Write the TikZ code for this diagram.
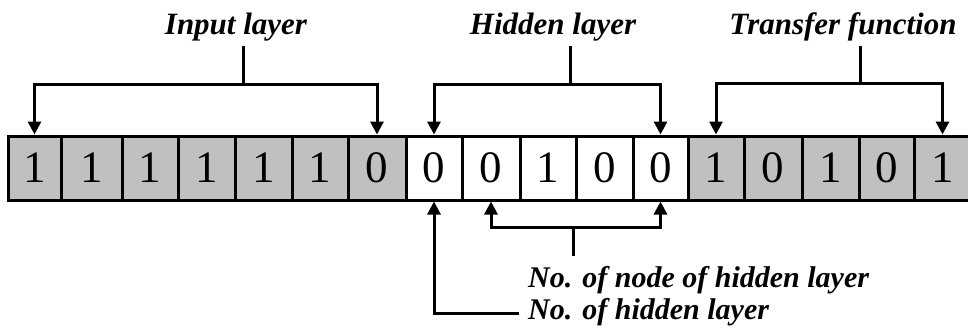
\documentclass[tikz,border=0pt]{standalone}
\usepackage{fontspec}
\setmainfont{Liberation Serif}
\usetikzlibrary{arrows.meta}
\definecolor{cellgray}{RGB}{192,192,192}
\tikzset{
  cellbox/.style={draw=black, line width=3pt, minimum height=64pt, inner sep=0pt, anchor=center,
    font=\fontsize{45}{45}\selectfont},
  graycell/.style={cellbox, fill=cellgray},
  whitecell/.style={cellbox, fill=white},
  lbltop/.style={font=\fontsize{31}{31}\selectfont\bfseries\itshape, inner sep=0pt, anchor=base},
  lblbot/.style={font=\fontsize{30}{30}\selectfont\bfseries\itshape, inner sep=0pt, anchor=base west},
  conn/.style={line width=3pt},
  arr/.style={conn, -{Triangle[width=13pt,length=13pt]}},
  arrboth/.style={conn, {Triangle[width=13pt,length=13pt]}-{Triangle[width=13pt,length=13pt]}},
}
\begin{document}
\begin{tikzpicture}[x=1pt,y=-1pt]
\useasboundingbox (0,0) rectangle (968,330);
\def\yc{168}
\node[graycell, minimum width=53pt]  (c1)  at (34.5,\yc) {1};
\node[graycell, minimum width=61pt]  (c2)  at (91.5,\yc) {1};
\node[graycell, minimum width=56pt]  (c3)  at (150,\yc) {1};
\node[graycell, minimum width=57pt]  (c4)  at (206.5,\yc) {1};
\node[graycell, minimum width=57pt]  (c5)  at (263.5,\yc) {1};
\node[graycell, minimum width=56pt]  (c6)  at (320,\yc) {1};
\node[graycell, minimum width=58pt]  (c7)  at (377,\yc) {0};
\node[whitecell, minimum width=56pt] (c8)  at (434,\yc) {0};
\node[whitecell, minimum width=58pt] (c9)  at (491,\yc) {0};
\node[whitecell, minimum width=56pt] (c10) at (548,\yc) {1};
\node[whitecell, minimum width=57pt] (c11) at (604.5,\yc) {0};
\node[whitecell, minimum width=55pt] (c12) at (660.5,\yc) {0};
\node[graycell, minimum width=56pt]  (c13) at (716,\yc) {1};
\node[graycell, minimum width=58pt]  (c14) at (773,\yc) {0};
\node[graycell, minimum width=57pt]  (c15) at (830.5,\yc) {1};
\node[graycell, minimum width=55pt]  (c16) at (886.5,\yc) {0};
\node[graycell, minimum width=57pt]  (c17) at (942.5,\yc) {1};
% top labels
\node[lbltop] (lin) at (236,34) {Input layer};
\node[lbltop] (lhid) at (553,34) {Hidden layer};
\node[lbltop] (ltr) at (843,34) {Transfer function};
\coordinate (sin) at (243,46);
\coordinate (shid) at (570,46);
\coordinate (str) at (860,46);
\coordinate (jin) at (243,84);
\coordinate (jhid) at (570,84);
\coordinate (jtr) at (860,83);
\draw[conn] (sin) -- (jin);
\draw[conn] (shid) -- (jhid);
\draw[conn] (str) -- (jtr);
\draw[arrboth] (c1.north) |- (jin) -| (c7.north);
\draw[arrboth] (c8.north) |- (jhid) -| (c12.north);
\draw[arrboth] (c13.north) |- (jtr) -| (c17.north);
% bottom labels
\node[lblbot] (lnode) at (528,287) {No. of node of hidden layer};
\node[lblbot] (lnum) at (528,319) {No. of hidden layer};
\coordinate (snode) at (573,256);
\coordinate (jnode) at (573,227);
\draw[conn] (snode) -- (jnode);
\draw[arrboth] (c9.south) |- (jnode) -| (c12.south);
\coordinate (enum) at (519,313);
\draw[arr] (enum) -| (c8.south);
\end{tikzpicture}
\end{document}
